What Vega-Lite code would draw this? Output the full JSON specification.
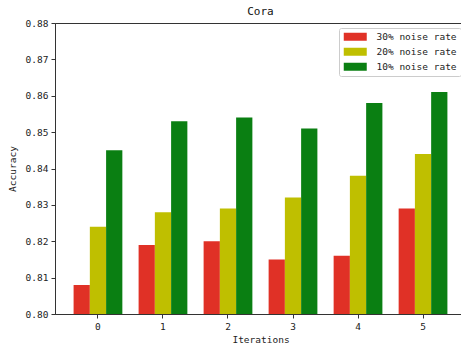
{
  "$schema": "https://vega.github.io/schema/vega-lite/v6.json",
  "autosize": "none",
  "padding": {"left": 55, "top": 23, "right": 0, "bottom": 35},
  "width": 411,
  "height": 291,
  "background": "white",
  "title": {"text": "Cora", "font": "DejaVu Sans Mono", "fontSize": 11, "fontWeight": "normal", "color": "#111", "offset": 1},
  "config": {
    "view": {"stroke": "#333", "strokeWidth": 1},
    "font": "DejaVu Sans Mono",
    "axis": {"grid": false, "domainColor": "#333", "tickColor": "#333", "labelColor": "#222", "titleColor": "#222", "labelFont": "DejaVu Sans Mono", "titleFont": "DejaVu Sans Mono", "labelFontSize": 9.5, "titleFontSize": 9.5, "titleFontWeight": "normal", "tickSize": 4}
  },
  "data": {
    "values": [
      {"iter": "0", "series": "30% noise rate", "acc": 0.808},
      {"iter": "0", "series": "20% noise rate", "acc": 0.824},
      {"iter": "0", "series": "10% noise rate", "acc": 0.845},
      {"iter": "1", "series": "30% noise rate", "acc": 0.819},
      {"iter": "1", "series": "20% noise rate", "acc": 0.828},
      {"iter": "1", "series": "10% noise rate", "acc": 0.853},
      {"iter": "2", "series": "30% noise rate", "acc": 0.820},
      {"iter": "2", "series": "20% noise rate", "acc": 0.829},
      {"iter": "2", "series": "10% noise rate", "acc": 0.854},
      {"iter": "3", "series": "30% noise rate", "acc": 0.815},
      {"iter": "3", "series": "20% noise rate", "acc": 0.832},
      {"iter": "3", "series": "10% noise rate", "acc": 0.851},
      {"iter": "4", "series": "30% noise rate", "acc": 0.816},
      {"iter": "4", "series": "20% noise rate", "acc": 0.838},
      {"iter": "4", "series": "10% noise rate", "acc": 0.858},
      {"iter": "5", "series": "30% noise rate", "acc": 0.829},
      {"iter": "5", "series": "20% noise rate", "acc": 0.844},
      {"iter": "5", "series": "10% noise rate", "acc": 0.861}
    ]
  },
  "mark": {"type": "bar", "clip": true},
  "encoding": {
    "x": {"field": "iter", "type": "nominal", "title": "Iterations",
      "scale": {"paddingInner": 0.25, "paddingOuter": 0.286},
      "axis": {"labelAngle": 0, "labelPadding": 3, "titlePadding": 4, "domain": true}},
    "xOffset": {"field": "series", "type": "nominal", "sort": ["30% noise rate", "20% noise rate", "10% noise rate"], "scale": {"paddingInner": 0, "paddingOuter": 0}},
    "y": {"field": "acc", "type": "quantitative", "title": "Accuracy",
      "scale": {"domain": [0.80, 0.88], "zero": false, "nice": false},
      "axis": {"values": [0.80, 0.81, 0.82, 0.83, 0.84, 0.85, 0.86, 0.87, 0.88], "format": ".2f", "labelPadding": 3, "titlePadding": 8}},
    "y2": {"datum": 0.80},
    "color": {"field": "series", "type": "nominal",
      "sort": ["30% noise rate", "20% noise rate", "10% noise rate"],
      "scale": {"domain": ["30% noise rate", "20% noise rate", "10% noise rate"], "range": ["#e03126", "#bfbf00", "#0a7f12"]},
      "legend": {"title": null, "orient": "none", "legendX": 284, "legendY": 5,
        "symbolType": "M-1,-1H4.75V1H-1Z", "symbolSize": 64, "symbolStrokeWidth": 0,
        "labelFont": "DejaVu Sans Mono", "labelFontSize": 9.5, "labelColor": "#222",
        "labelOffset": 24, "rowPadding": 4, "padding": 4, "strokeColor": "#ccc", "fillColor": "white", "cornerRadius": 2, "offset": 0}}
  }
}
